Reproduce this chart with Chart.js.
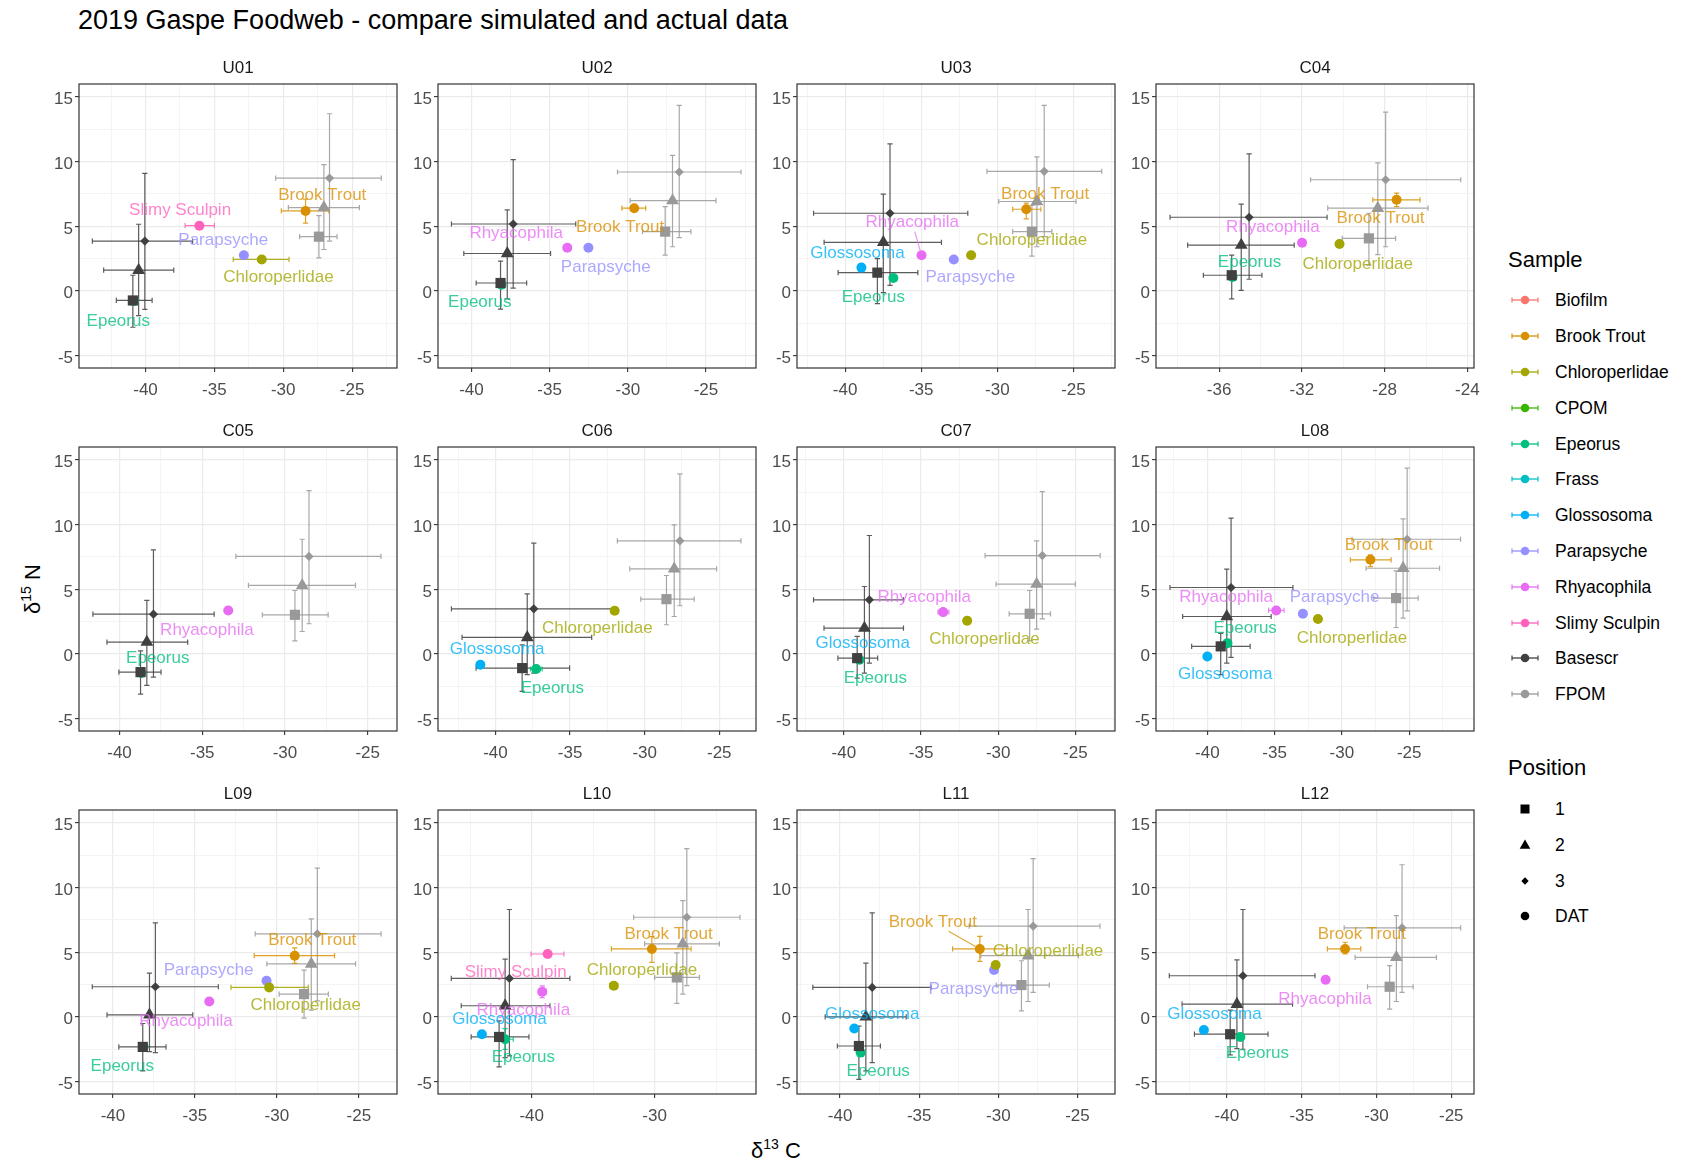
<!DOCTYPE html>
<html><head><meta charset="utf-8">
<script src="https://cdn.jsdelivr.net/npm/chart.js@4/dist/chart.umd.min.js"></script>
<style>
html,body{margin:0;padding:0;background:#fff;}
body{width:1682px;height:1163px;position:relative;overflow:hidden;font-family:"Liberation Sans",Arial,sans-serif;color:#000;}
canvas{position:absolute;}
.t{position:absolute;white-space:nowrap;}
.c{transform:translate(-50%,-50%);}
.lv{transform:translate(0,-50%);}
</style></head><body>
<div class="t" style="left:78px;top:4px;font-size:27px;line-height:32px;">2019 Gaspe Foodweb - compare simulated and actual data</div>
<div class="t c" style="left:776px;top:1150px;font-size:22px;">δ<sup style="font-size:14px;">13</sup> C</div>
<div class="t c" style="left:32px;top:589px;font-size:22px;transform:translate(-50%,-50%) rotate(-90deg);">δ<sup style="font-size:14px;">15</sup> N</div>
<div id="legend"></div>
<script>
// ---------- DATA ----------
const sampleNames = ['Biofilm','Brook Trout','Chloroperlidae','CPOM','Epeorus','Frass','Glossosoma','Parapsyche','Rhyacophila','Slimy Sculpin','Basescr','FPOM'];
const sampleColors = ['#F8766D','#D89000','#A3A500','#39B600','#00BF7D','#00BFC4','#00B0F6','#9590FF','#E76BF3','#FF62BC','#404040','#999999'];
const positionNames = ['1','2','3','DAT'];
const panelNames = ['U01','U02','U03','C04','C05','C06','C07','L08','L09','L10','L11','L12'];
const xLimits = [[-44.83,-21.74],[-42.14,-21.8],[-43.16,-22.27],[-39.05,-23.68],[-42.45,-23.23],[-43.85,-22.54],[-43.04,-22.43],[-43.82,-20.18],[-42.07,-22.67],[-47.62,-21.75],[-42.72,-22.63],[-44.74,-23.48]];
const xSteps = [5,5,5,4,5,5,5,5,5,10,5,5];
const yLimits = [-5.95,16];
const yTickValues = [-5,0,5,10,15];

// rows: [sample, position, d13C, d15N, xmin, xmax, ymin, ymax]
const dataU01 = [
 ['Basescr','1',-40.92,-0.73,-42.12,-39.52,-2.8,1.22],
 ['Basescr','2',-40.5,1.61,-43.04,-37.95,-1.9,5.16],
 ['Basescr','3',-40.05,3.86,-43.86,-36.58,-1.42,9.09],
 ['FPOM','1',-27.41,4.2,-28.81,-26.09,2.56,5.83],
 ['FPOM','2',-27.05,6.45,-29.63,-24.47,3.21,9.77],
 ['FPOM','3',-26.64,8.73,-30.55,-22.88,3.86,13.7],
 ['Brook Trout','DAT',-28.38,6.19,-30.14,-26.69,5.25,7.1],
 ['Chloroperlidae','DAT',-31.56,2.44,-33.63,-29.58,null,null],
 ['Epeorus','DAT',-40.87,-0.78,null,null,null,null],
 ['Parapsyche','DAT',-32.86,2.77,null,null,null,null],
 ['Slimy Sculpin','DAT',-36.09,5.05,-37.13,-35.0,null,null]
];
const dataU02 = [
 ['Basescr','1',-38.14,0.62,-39.7,-36.47,-1.4,2.31],
 ['Basescr','2',-37.71,2.9,-40.49,-34.94,-0.6,6.27],
 ['Basescr','3',-37.33,5.18,-41.28,-33.33,0.23,10.16],
 ['FPOM','1',-27.61,4.59,-29.06,-25.96,2.77,6.53],
 ['FPOM','2',-27.14,6.99,-29.85,-24.36,3.42,10.49],
 ['FPOM','3',-26.71,9.2,-30.66,-22.76,4.12,14.35],
 ['Brook Trout','DAT',-29.59,6.4,-30.38,-28.85,null,null],
 ['Epeorus','DAT',-38.08,0.49,null,null,null,null],
 ['Parapsyche','DAT',-32.52,3.34,null,null,null,null],
 ['Rhyacophila','DAT',-33.87,3.34,null,null,null,null]
];
const dataU03 = [
 ['Basescr','1',-37.88,1.42,-40.46,-35.22,-0.98,2.5],
 ['Basescr','2',-37.49,3.76,-41.38,-33.67,-0.13,7.49],
 ['Basescr','3',-37.05,6.01,-42.07,-31.94,0.44,11.37],
 ['FPOM','1',-27.73,4.59,-28.99,-26.42,2.69,6.61],
 ['FPOM','2',-27.4,6.92,-29.91,-24.83,3.42,10.36],
 ['FPOM','3',-26.92,9.25,-30.68,-23.14,4.2,14.35],
 ['Brook Trout','DAT',-28.1,6.32,-28.99,-27.14,5.57,6.79],
 ['Chloroperlidae','DAT',-31.72,2.77,null,null,null,null],
 ['Epeorus','DAT',-36.83,1.01,null,null,null,null],
 ['Glossosoma','DAT',-38.93,1.81,null,null,null,null],
 ['Parapsyche','DAT',-32.86,2.44,null,null,null,null],
 ['Rhyacophila','DAT',-34.98,2.77,null,null,null,null]
];
const dataC04 = [
 ['Basescr','1',-35.39,1.22,-36.76,-33.93,-0.6,2.77],
 ['Basescr','2',-34.93,3.55,-37.52,-32.37,0.05,6.71],
 ['Basescr','3',-34.55,5.7,-38.37,-30.78,0.91,10.6],
 ['FPOM','1',-28.76,4.07,-30.05,-27.47,2.0,6.01],
 ['FPOM','2',-28.33,6.4,-30.75,-25.9,2.82,9.9],
 ['FPOM','3',-27.95,8.6,-31.58,-24.32,3.42,13.83],
 ['Brook Trout','DAT',-27.42,7.05,-28.57,-26.29,6.53,7.56],
 ['Chloroperlidae','DAT',-30.18,3.63,null,null,null,null],
 ['Epeorus','DAT',-35.35,1.09,null,null,null,null],
 ['Rhyacophila','DAT',-31.99,3.73,null,null,null,null]
];
const dataC05 = [
 ['Basescr','1',-38.73,-1.4,-40.04,-37.49,-3.1,0.25],
 ['Basescr','2',-38.35,0.92,-40.76,-35.88,-2.43,4.14],
 ['Basescr','3',-37.95,3.08,-41.61,-34.28,-1.78,8.05],
 ['FPOM','1',-29.4,3.03,-31.37,-27.39,1.02,4.91],
 ['FPOM','2',-28.96,5.3,-32.21,-25.74,1.74,8.87],
 ['FPOM','3',-28.55,7.54,-32.97,-24.2,2.34,12.63],
 ['Epeorus','DAT',-38.69,-1.47,null,null,null,null],
 ['Rhyacophila','DAT',-33.43,3.37,null,null,null,null]
];
const dataC06 = [
 ['Basescr','1',-38.21,-1.09,-41.3,-35.03,-2.89,0.71],
 ['Basescr','2',-37.87,1.28,-42.24,-33.55,-1.6,4.65],
 ['Basescr','3',-37.43,3.49,-42.95,-31.99,-1.47,8.57],
 ['FPOM','1',-28.54,4.24,-30.26,-26.68,2.26,6.07],
 ['FPOM','2',-28.02,6.58,-31.0,-25.18,2.9,9.98],
 ['FPOM','3',-27.64,8.75,-31.83,-23.55,3.73,13.92],
 ['Chloroperlidae','DAT',-32.01,3.34,null,null,null,null],
 ['Epeorus','DAT',-37.27,-1.16,-37.65,-36.87,null,null],
 ['Glossosoma','DAT',-41.01,-0.83,null,null,null,null]
];
const dataC07 = [
 ['Basescr','1',-39.14,-0.32,-40.39,-37.81,-1.86,1.36],
 ['Basescr','2',-38.67,2.0,-41.29,-36.14,-1.47,5.22],
 ['Basescr','3',-38.35,4.19,-41.97,-36.14,-0.7,9.16],
 ['FPOM','1',-27.96,3.11,-29.29,-26.61,1.02,4.91],
 ['FPOM','2',-27.51,5.4,-30.14,-25.0,1.92,8.75],
 ['FPOM','3',-27.14,7.61,-30.85,-23.39,2.72,12.55],
 ['Chloroperlidae','DAT',-32.01,2.57,null,null,null,null],
 ['Epeorus','DAT',-38.99,-0.44,null,null,null,null],
 ['Glossosoma','DAT',-39.14,-0.32,null,null,null,null],
 ['Rhyacophila','DAT',-33.57,3.24,-33.9,-33.2,null,null]
];
const dataL08 = [
 ['Basescr','1',-39.01,0.59,-41.17,-36.82,-1.6,1.6],
 ['Basescr','2',-38.56,2.9,-41.84,-35.26,-0.7,6.56],
 ['Basescr','3',-38.24,5.14,-42.78,-33.64,-0.26,10.5],
 ['FPOM','1',-25.97,4.32,-27.63,-24.33,2.05,6.43],
 ['FPOM','2',-25.45,6.63,-28.2,-22.74,2.77,10.44],
 ['FPOM','3',-25.15,8.87,-29.25,-21.18,3.34,14.36],
 ['Brook Trout','DAT',-27.88,7.28,-29.37,-26.34,6.76,7.66],
 ['Chloroperlidae','DAT',-31.78,2.7,null,null,null,null],
 ['Epeorus','DAT',-38.51,0.84,null,null,null,null],
 ['Glossosoma','DAT',-40.0,-0.19,null,null,null,null],
 ['Parapsyche','DAT',-32.9,3.11,null,null,null,null],
 ['Rhyacophila','DAT',-34.88,3.37,-35.45,-34.3,null,null]
];
const dataL09 = [
 ['Basescr','1',-38.18,-2.31,-39.64,-36.76,-4.17,-0.5],
 ['Basescr','2',-37.77,0.17,-40.36,-35.13,-2.67,3.4],
 ['Basescr','3',-37.41,2.34,-41.26,-33.57,-2.75,7.27],
 ['FPOM','1',-28.34,1.77,-29.86,-26.86,-0.09,3.63],
 ['FPOM','2',-27.9,4.1,-30.61,-25.2,0.53,7.58],
 ['FPOM','3',-27.53,6.42,-31.32,-23.64,1.25,11.51],
 ['Brook Trout','DAT',-28.91,4.74,-31.38,-26.48,4.15,5.34],
 ['Chloroperlidae','DAT',-30.47,2.29,-32.8,-28.08,null,null],
 ['Epeorus','DAT',-38.13,-2.31,null,null,null,null],
 ['Parapsyche','DAT',-30.63,2.8,null,null,null,null],
 ['Rhyacophila','DAT',-34.12,1.2,null,null,null,null]
];
const dataL10 = [
 ['Basescr','1',-42.65,-1.54,-44.92,-40.22,-3.86,-0.3],
 ['Basescr','2',-42.16,0.87,-45.73,-38.51,-3.14,4.48],
 ['Basescr','3',-41.81,2.98,-46.54,-36.89,-3.01,8.31],
 ['FPOM','1',-28.19,3.06,-30.0,-26.35,1.05,4.95],
 ['FPOM','2',-27.7,5.65,-30.81,-24.73,1.77,9.0],
 ['FPOM','3',-27.38,7.71,-31.7,-23.05,2.42,13.01],
 ['Brook Trout','DAT',-30.22,5.26,-33.51,-27.03,4.22,6.21],
 ['Chloroperlidae','DAT',-33.32,2.42,-33.65,-33.0,null,null],
 ['Epeorus','DAT',-42.16,-1.72,-42.6,-41.5,-2.5,-0.9],
 ['Glossosoma','DAT',-44.05,-1.33,null,null,null,null],
 ['Rhyacophila','DAT',-39.14,1.95,-39.45,-38.8,1.5,2.4],
 ['Slimy Sculpin','DAT',-38.7,4.87,-40.05,-37.38,null,null]
];
const dataL11 = [
 ['Basescr','1',-38.81,-2.24,-40.17,-37.45,-4.82,-0.7],
 ['Basescr','2',-38.37,0.01,-40.94,-35.82,-4.17,4.17],
 ['Basescr','3',-37.97,2.29,-41.72,-34.25,-3.53,8.05],
 ['FPOM','1',-28.54,2.47,-30.13,-26.78,0.47,4.35],
 ['FPOM','2',-28.12,4.74,-31.11,-24.94,1.2,8.31],
 ['FPOM','3',-27.8,7.02,-31.84,-23.58,1.9,12.24],
 ['Brook Trout','DAT',-31.17,5.26,-32.89,-29.44,4.3,6.24],
 ['Chloroperlidae','DAT',-30.17,4.02,null,null,null,null],
 ['Epeorus','DAT',-38.7,-2.75,null,null,null,null],
 ['Glossosoma','DAT',-39.1,-0.89,null,null,null,null],
 ['Parapsyche','DAT',-30.27,3.63,null,null,null,null]
];
const dataL12 = [
 ['Basescr','1',-39.78,-1.33,-42.17,-37.25,-2.93,0.53],
 ['Basescr','2',-39.33,0.99,-43.0,-35.61,-2.45,4.41],
 ['Basescr','3',-38.93,3.19,-43.85,-34.11,-2.49,8.31],
 ['FPOM','1',-29.12,2.34,-30.6,-27.55,0.61,3.97],
 ['FPOM','2',-28.67,4.61,-31.43,-25.99,1.2,7.84],
 ['FPOM','3',-28.29,6.89,-32.16,-24.37,1.9,11.77],
 ['Brook Trout','DAT',-32.1,5.26,-33.28,-31.05,4.87,5.78],
 ['Epeorus','DAT',-39.1,-1.54,null,null,null,null],
 ['Glossosoma','DAT',-41.54,-1.0,null,null,null,null],
 ['Rhyacophila','DAT',-33.4,2.88,null,null,null,null]
];

// repelled text labels: [sample, d13C, d15N, drawSegment]
const labelsU01 = [['Slimy Sculpin',-37.49,6.22],['Parapsyche',-34.36,3.91],['Chloroperlidae',-30.35,1.04],['Brook Trout',-27.17,7.36],['Epeorus',-41.98,-2.33]];
const labelsU02 = [['Rhyacophila',-37.14,4.46],['Brook Trout',-30.49,4.92],['Parapsyche',-31.41,1.87],['Epeorus',-39.47,-0.85]];
const labelsU03 = [['Glossosoma',-39.19,2.9],['Rhyacophila',-35.59,5.28,true],['Parapsyche',-31.77,1.09],['Chloroperlidae',-27.73,3.94],['Brook Trout',-26.86,7.49],['Epeorus',-38.14,-0.52]];
const labelsC04 = [['Rhyacophila',-33.4,4.92],['Epeorus',-34.53,2.25],['Brook Trout',-28.2,5.62],['Chloroperlidae',-29.3,2.07]];
const labelsC05 = [['Rhyacophila',-34.72,1.87],['Epeorus',-37.69,-0.32]];
const labelsC06 = [['Chloroperlidae',-33.17,2.0],['Glossosoma',-39.89,0.33],['Epeorus',-36.19,-2.63]];
const labelsC07 = [['Rhyacophila',-34.79,4.37],['Glossosoma',-38.78,0.84],['Chloroperlidae',-30.89,1.1],['Epeorus',-37.96,-1.86]];
const labelsL08 = [['Brook Trout',-26.52,8.44],['Rhyacophila',-38.61,4.37],['Parapsyche',-30.54,4.37],['Epeorus',-37.19,2.0],['Chloroperlidae',-29.25,1.23],['Glossosoma',-38.68,-1.6]];
const labelsL09 = [['Brook Trout',-27.84,5.9],['Parapsyche',-34.16,3.63],['Chloroperlidae',-28.24,0.87],['Rhyacophila',-35.54,-0.3],['Epeorus',-39.43,-3.79]];
const labelsL10 = [['Brook Trout',-28.86,6.42],['Slimy Sculpin',-41.3,3.45],['Chloroperlidae',-31.03,3.58],['Rhyacophila',-40.68,0.53],['Glossosoma',-42.62,-0.17],['Epeorus',-40.68,-3.14]];
const labelsL11 = [['Brook Trout',-34.14,7.33,true],['Chloroperlidae',-26.86,5.08],['Parapsyche',-31.57,2.16],['Glossosoma',-37.97,0.22],['Epeorus',-37.59,-4.22]];
const labelsL12 = [['Brook Trout',-30.98,6.42],['Rhyacophila',-33.44,1.38],['Glossosoma',-40.83,0.22],['Epeorus',-37.96,-2.82]];

const panelRows = [dataU01,dataU02,dataU03,dataC04,dataC05,dataC06,dataC07,dataL08,dataL09,dataL10,dataL11,dataL12];
const panelLabels = [labelsU01,labelsU02,labelsU03,labelsC04,labelsC05,labelsC06,labelsC07,labelsL08,labelsL09,labelsL10,labelsL11,labelsL12];

// ---------- STYLE / LAYOUT ----------
const FONT = '"Liberation Sans", Arial, sans-serif';
const colLeft = [79, 438, 797, 1156];
const rowTop = [84, 447, 810];
const PW = 318, PH = 284;
const YW = 46, XH = 36, PAD = 20;
const shapeOf = {'1':'rect','2':'triangle','3':'rectRot','DAT':'circle'};
const radiusOf = {'1':7.2,'2':7.4,'3':4.6,'DAT':5};

function colorOf(s){ return sampleColors[sampleNames.indexOf(s)]; }
function rgba(hex,a){ const n=parseInt(hex.slice(1),16); return `rgba(${(n>>16)&255},${(n>>8)&255},${n&255},${a})`; }
function isMajor(v,step){ const q=v/step; return Math.abs(q-Math.round(q))<1e-6; }
function halfTicks(min,max,step){ const h=step/2, out=[]; for(let v=Math.ceil(min/h)*h; v<=max+1e-9; v+=h){ out.push({value:Math.round(v*1000)/1000}); } return out; }

const decorPlugin = {
  id:'decor',
  beforeDatasetsDraw(chart, args, opts){
    const {ctx, chartArea:ca} = chart; const x=chart.scales.x, y=chart.scales.y;
    ctx.save(); ctx.beginPath(); ctx.rect(ca.left,ca.top,ca.width,ca.height); ctx.clip();
    ctx.lineWidth = 1.2;
    opts.rows.forEach(r=>{
      const col = rgba(colorOf(r[0]),0.85);
      ctx.strokeStyle = col;
      const py = y.getPixelForValue(r[3]), px = x.getPixelForValue(r[2]);
      if(r[4]!=null){
        const a=x.getPixelForValue(r[4]), b=x.getPixelForValue(r[5]);
        ctx.beginPath(); ctx.moveTo(a,py); ctx.lineTo(b,py);
        ctx.moveTo(a,py-2.6); ctx.lineTo(a,py+2.6); ctx.moveTo(b,py-2.6); ctx.lineTo(b,py+2.6); ctx.stroke();
      }
      if(r[6]!=null){
        const a=y.getPixelForValue(r[6]), b=y.getPixelForValue(r[7]);
        ctx.beginPath(); ctx.moveTo(px,a); ctx.lineTo(px,b);
        ctx.moveTo(px-2.6,a); ctx.lineTo(px+2.6,a); ctx.moveTo(px-2.6,b); ctx.lineTo(px+2.6,b); ctx.stroke();
      }
    });
    ctx.restore();
  },
  afterDatasetsDraw(chart, args, opts){
    const {ctx} = chart; const x=chart.scales.x, y=chart.scales.y;
    ctx.save();
    ctx.font = `17px ${FONT}`; ctx.textAlign='center'; ctx.textBaseline='middle';
    opts.labels.forEach(l=>{
      const col = rgba(colorOf(l[0]),0.78);
      const lx = x.getPixelForValue(l[1]), ly = y.getPixelForValue(l[2]);
      if(l[3]){
        const r = opts.rows.find(q=>q[0]===l[0] && q[1]==='DAT');
        if(r){
          const px=x.getPixelForValue(r[2]), py=y.getPixelForValue(r[3]);
          const w=ctx.measureText(l[0]).width/2+1, h=9;
          const dx=px-lx, dy=py-ly, d=Math.hypot(dx,dy);
          const t=Math.min(Math.abs(dx)>1e-6? w/Math.abs(dx):1e9, Math.abs(dy)>1e-6? h/Math.abs(dy):1e9);
          ctx.strokeStyle=col; ctx.lineWidth=1.1;
          ctx.beginPath(); ctx.moveTo(lx+dx*t, ly+dy*t); ctx.lineTo(px-dx/d*5, py-dy/d*5); ctx.stroke();
        }
      }
      ctx.fillStyle = col;
      ctx.fillText(l[0], lx, ly);
    });
    ctx.restore();
  },
  afterDraw(chart){
    const {ctx, chartArea:ca} = chart;
    ctx.save(); ctx.strokeStyle='#333333'; ctx.lineWidth=1.2;
    ctx.strokeRect(ca.left, ca.top, ca.width, ca.height);
    ctx.restore();
  }
};

panelNames.forEach((name,i)=>{
  const col=i%4, row=Math.floor(i/4);
  const pl=colLeft[col], pt=rowTop[row];
  const cv=document.createElement('canvas');
  const W=PW+YW+2*PAD, H=PH+XH+2*PAD;
  cv.width=W; cv.height=H;
  cv.style.left=(pl-YW-PAD)+'px'; cv.style.top=(pt-PAD)+'px';
  cv.style.width=W+'px'; cv.style.height=H+'px';
  document.body.appendChild(cv);

  const strip=document.createElement('div');
  strip.className='t c'; strip.textContent=name;
  strip.style.cssText+=`left:${pl+PW/2}px;top:${pt-16}px;font-size:17px;color:#1A1A1A;`;
  document.body.appendChild(strip);

  const rows = panelRows[i];
  const xs = xSteps[i];
  const [xmin,xmax] = xLimits[i];
  const datasets = rows.map(r=>({
    label: r[0]+' '+r[1],
    data:[{x:r[2], y:r[3]}],
    pointStyle: shapeOf[r[1]],
    pointRadius: radiusOf[r[1]],
    pointHoverRadius: radiusOf[r[1]],
    backgroundColor: colorOf(r[0]),
    borderColor: colorOf(r[0]),
    borderWidth: 0,
    showLine:false
  }));
  const gridCfg = (step)=>({
    color: c=> isMajor(c.tick.value,step)? '#EBEBEB':'#F3F3F3',
    lineWidth: c=> isMajor(c.tick.value,step)? 1.2:0.9,
    tickColor: c=> isMajor(c.tick.value,step)? '#333333':'rgba(0,0,0,0)',
    tickLength: 4, tickWidth: 1.1, drawTicks:true, drawOnChartArea:true
  });
  new Chart(cv, {
    type:'scatter',
    data:{datasets},
    plugins:[decorPlugin],
    options:{
      animation:false, responsive:false, devicePixelRatio:1, events:[],
      layout:{padding:PAD},
      plugins:{legend:{display:false}, tooltip:{enabled:false}, decor:{rows, labels:panelLabels[i]}},
      scales:{
        x:{type:'linear', position:'bottom', min:xmin, max:xmax,
           afterBuildTicks:s=>{ s.ticks=halfTicks(xmin,xmax,xs); },
           afterFit:s=>{ s.height=XH; },
           ticks:{autoSkip:false, maxRotation:0, minRotation:0, padding:8, color:'#4D4D4D', font:{family:FONT,size:17},
             callback:v=> isMajor(v,xs)? String(v):''},
           grid:gridCfg(xs), border:{display:false}},
        y:{type:'linear', position:'left', min:yLimits[0], max:yLimits[1],
           afterBuildTicks:s=>{ s.ticks=halfTicks(yLimits[0],yLimits[1],5); },
           afterFit:s=>{ s.width=YW; },
           ticks:{autoSkip:false, padding:2, labelOffset:2.5, color:'#4D4D4D', font:{family:FONT,size:17},
             callback:v=> yTickValues.includes(v)? String(v):''},
           grid:gridCfg(5), border:{display:false}}
      }
    }
  });
});

// ---------- LEGEND ----------
const legend=document.getElementById('legend');
function addText(txt,x,y,size,cls){ const d=document.createElement('div'); d.className='t '+cls; d.textContent=txt; d.style.cssText+=`left:${x}px;top:${y}px;font-size:${size}px;color:#000;`; legend.appendChild(d); }
function addKey(svgInner,cx,cy){ const d=document.createElement('div'); d.className='t'; d.style.cssText=`left:${cx-17}px;top:${cy-12}px;width:34px;height:24px;`; d.innerHTML=`<svg width="34" height="24" xmlns="http://www.w3.org/2000/svg">${svgInner}</svg>`; legend.appendChild(d); }
addText('Sample',1508,260,22,'lv');
sampleNames.forEach((s,i)=>{
  const cy=300.4+i*35.8, c=sampleColors[i];
  addKey(`<line x1="4" y1="12" x2="30" y2="12" stroke="${c}" stroke-width="1.3"/><line x1="4" y1="9.5" x2="4" y2="14.5" stroke="${c}" stroke-width="1.2"/><line x1="30" y1="9.5" x2="30" y2="14.5" stroke="${c}" stroke-width="1.2"/><circle cx="17" cy="12" r="4.3" fill="${c}"/>`,1525,cy);
  addText(s,1555,cy,17.5,'lv');
});
addText('Position',1508,768,22,'lv');
const posKeys=[
 '<rect x="12.5" y="7.5" width="9" height="9" fill="#000"/>',
 '<polygon points="17,6.5 22.3,15.8 11.7,15.8" fill="#000"/>',
 '<polygon points="17,8.3 20.7,12 17,15.7 13.3,12" fill="#000"/>',
 '<circle cx="17" cy="12" r="4.3" fill="#000"/>'
];
positionNames.forEach((p,i)=>{
  const cy=809+i*35.8;
  addKey(posKeys[i],1525,cy);
  addText(p,1555,cy,17.5,'lv');
});
</script>
</body></html>
